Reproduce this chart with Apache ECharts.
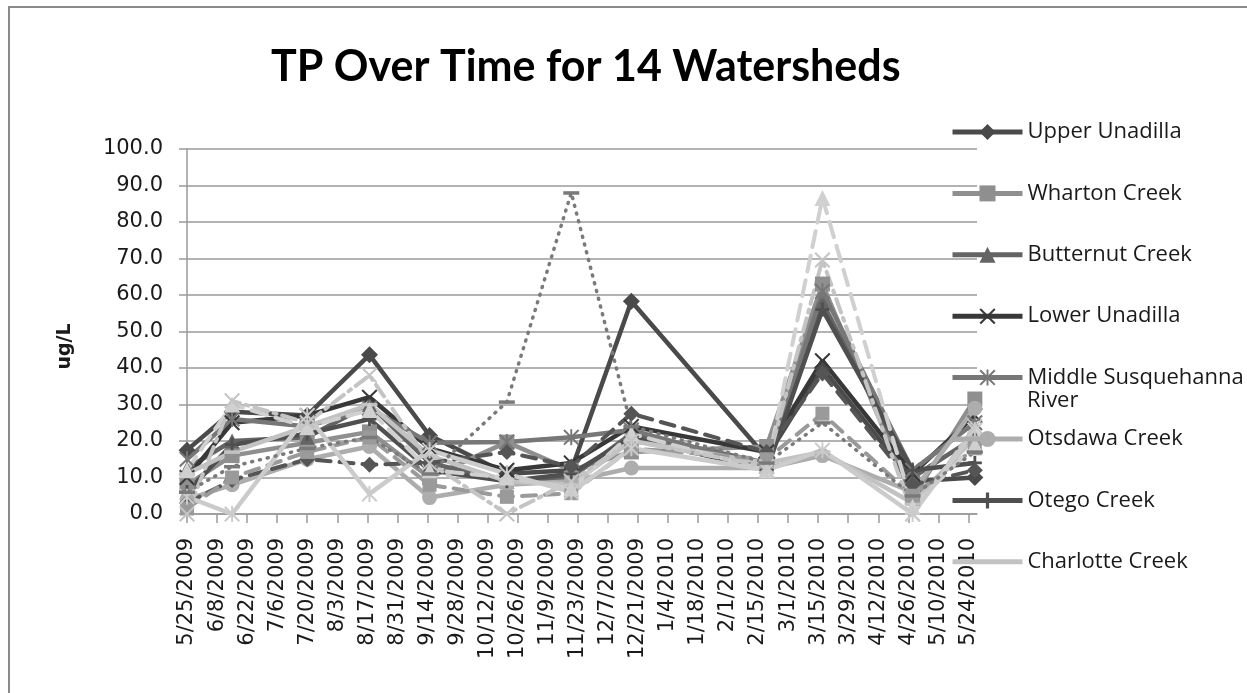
<!DOCTYPE html>
<html>
<head>
<meta charset="utf-8">
<title>TP Over Time for 14 Watersheds</title>
<script src="https://cdn.jsdelivr.net/npm/echarts@6/dist/echarts.min.js"></script>
<style>
html,body{margin:0;padding:0;background:#fff;}
#chart{width:1247px;height:693px;}
</style>
</head>
<body>
<div id="chart"></div>
<script>
// x axis: days counted from 5/25/2009, a label every 14 days
var tickLabels = ['5/25/2009','6/8/2009','6/22/2009','7/6/2009','7/20/2009','8/3/2009','8/17/2009',
  '8/31/2009','9/14/2009','9/28/2009','10/12/2009','10/26/2009','11/9/2009','11/23/2009',
  '12/7/2009','12/21/2009','1/4/2010','1/18/2010','2/1/2010','2/15/2010','3/1/2010',
  '3/15/2010','3/29/2010','4/12/2010','4/26/2010','5/10/2010','5/24/2010'];
var sampleDates = ['2009-05-25','2009-06-15','2009-07-20','2009-08-18','2009-09-15','2009-10-21',
  '2009-11-20','2009-12-18','2010-02-19','2010-03-17','2010-04-28','2010-05-27'];

// TP (ug/L) per watershed, one value per sample date
var upperUnadilla   = [17.5, 28.0, 27.0, 43.6, 21.5, 11.0, 12.0, 58.3, 15.5, 40.0,  9.0, 10.0];
var whartonCreek    = [ 8.0, 16.0, 19.5, 22.5, 10.0, 19.7, 12.0, 17.0, 18.5, 63.0,  4.4, 31.5];
var butternutCreek  = [12.5, 20.0, 21.0, 30.0, 14.0,  9.0, 10.0, 22.0, 14.0, 58.0, 10.0, 21.0];
var lowerUnadilla   = [10.0, 25.0, 27.0, 32.0, 18.0, 12.0, 14.0, 24.0, 17.0, 42.0, 11.0, 27.0];
var middleSusq      = [15.0, 26.0, 24.0, 29.0, 19.5, 19.7, 21.0, 23.0, 13.0, 61.0, 12.0, 25.0];
var otsdawaCreek    = [ 4.0,  8.0, 15.0, 18.5,  4.5,  8.0,  9.0, 12.6, 12.6, 16.0,  6.0, 29.0];
var otegoCreek      = [ 6.0, 19.0, 22.0, 26.0, 12.0,  9.0, 11.0, 21.0, 12.0, 56.0, 12.0, 14.0];
var charlotteCreek  = [11.0, 17.0, 24.0, 30.0, 16.0,  9.0,  8.0, 20.0, 14.0, 17.0,  3.0, 21.0];
var oaksCreek       = [ 3.0,  9.3, 15.0, 13.5, 14.0, 17.0, 13.0, 27.5, 17.0, 38.5,  8.0, 12.0];
var schenevusCreek  = [ 1.5, 10.0, 17.0, 21.0,  8.0,  4.7,  5.7, 18.0, 15.0, 27.5,  5.0, 18.0];
var cherryValley    = [12.0, 30.0, 23.8, 28.5, 12.0, 10.0,  7.0, 22.0, 12.0, 86.6,  2.0, 19.0];
var ouleoutCreek    = [ 0.0, 31.0, 25.0, 38.0, 14.0,  0.0,  9.0, 20.0, 13.0, 69.6,  0.0, 24.0];
var upperSusq       = [ 4.7,  0.0, 27.0,  5.5, 17.5, 11.0,  6.0, 18.0, 12.0, 17.5,  0.0, 23.0];
var lowerSusq       = [ 6.0, 13.0, 18.0, 21.0, 11.0, 30.7, 88.0, 24.0, 14.0, 25.0,  5.0, 17.0];

var START = Date.UTC(2009, 4, 25);
function dayOf(s){
  var p = s.split('-');
  return Math.round((Date.UTC(+p[0], +p[1]-1, +p[2]) - START) / 86400000);
}
var sampleDays = sampleDates.map(dayOf);

var X_MARK = 'M0,0.9L0.9,0L5,4.1L9.1,0L10,0.9L5.9,5L10,9.1L9.1,10L5,5.9L0.9,10L0,9.1L4.1,5Z';
var STAR_MARK = X_MARK + 'M4.4,0L5.6,0L5.6,10L4.4,10Z';
var PLUS_MARK = 'M4,0L6,0L6,4L10,4L10,6L6,6L6,10L4,10L4,6L0,6L0,4L4,4Z';
var DASH_MARK = 'M0,0M10,10M0,4L10,4L10,6.2L0,6.2Z';

var series = [
  {name:'Upper Unadilla', data:upperUnadilla, color:'#4a4a4a', symbol:'diamond', size:17, width:4.5},
  {name:'Wharton Creek', data:whartonCreek, color:'#8f8f8f', symbol:'rect', size:15, width:4.5},
  {name:'Butternut Creek', data:butternutCreek, color:'#646464', symbol:'triangle', size:15, width:4.5},
  {name:'Lower Unadilla', data:lowerUnadilla, color:'#383838', symbol:'path://' + X_MARK, size:16, width:4.5},
  {name:'Middle Susquehanna River', data:middleSusq, color:'#777777', symbol:'path://' + STAR_MARK, size:16, width:4.5},
  {name:'Otsdawa Creek', data:otsdawaCreek, color:'#adadad', symbol:'circle', size:15, width:4.5},
  {name:'Otego Creek', data:otegoCreek, color:'#4f4f4f', symbol:'path://' + PLUS_MARK, size:14, width:4.5},
  {name:'Charlotte Creek', data:charlotteCreek, color:'#c2c2c2', symbol:'path://' + DASH_MARK, size:16, width:4.5},
  {name:'Oaks Creek', data:oaksCreek, color:'#555555', symbol:'diamond', size:16, width:4, dash:[14, 9]},
  {name:'Schenevus Creek', data:schenevusCreek, color:'#9a9a9a', symbol:'rect', size:14, width:4, dash:[14, 9]},
  {name:'Cherry Valley Creek', data:cherryValley, color:'#d0d0d0', symbol:'triangle', size:16, width:4, dash:[16, 9]},
  {name:'Ouleout Creek', data:ouleoutCreek, color:'#c4c4c4', symbol:'path://' + X_MARK, size:16, width:4, dash:[14, 6, 3, 6]},
  {name:'Upper Susquehanna River', data:upperSusq, color:'#cbcbcb', symbol:'path://' + STAR_MARK, size:16, width:4.5},
  {name:'Lower Susquehanna River', data:lowerSusq, color:'#7a7a7a', symbol:'path://' + DASH_MARK, size:16, width:3.5, dash:[1, 7]}
];

// only the first eight entries fit in the legend box
var legendNames = series.slice(0, 8).map(function(s){ return s.name; });

var chart = echarts.init(document.getElementById('chart'));

var option = {
  animation:false,
  backgroundColor:'#fff',
  textStyle:{fontFamily:'DejaVu Sans'},
  title:{
    text:'TP Over Time for 14 Watersheds', left:266, top:41,
    textStyle:{fontFamily:'Lato', fontWeight:'bold', fontSize:43, color:'#000'}
  },
  graphic:[{
    type:'rect', silent:true, z:-1,
    shape:{x:9, y:7, width:1400, height:900},
    style:{fill:null, stroke:'#8a8a8a', lineWidth:2}
  }, {
    // second line of the wrapped legend entry
    type:'text', silent:true,
    style:{text:'River', x:1027, y:401, fill:'#1a1a1a', fontFamily:'Open Sans', fontSize:22, verticalAlign:'middle'}
  }],
  legend:{
    orient:'vertical', left:950, top:120, padding:0,
    itemWidth:70, itemHeight:20, itemGap:37.4,
    selectedMode:false,
    data:legendNames,
    formatter:function(n){ return n === 'Middle Susquehanna River' ? 'Middle Susquehanna' : n; },
    lineStyle:{width:5},
    textStyle:{fontFamily:'Open Sans', fontSize:22, color:'#1a1a1a', lineHeight:24}
  },
  grid:{left:187, right:270, top:149, bottom:179},
  xAxis:{
    type:'value', min:0, max:368, interval:14,
    axisLine:{lineStyle:{color:'#9a9a9a', width:1.5}},
    axisTick:{show:true, length:9, lineStyle:{color:'#9a9a9a', width:1.5}},
    splitLine:{show:false},
    axisLabel:{
      rotate:90, margin:24, fontSize:21, color:'#1a1a1a', fontFamily:'DejaVu Sans',
      showMaxLabel:false,
      formatter:function(v){
        if (v % 14 !== 0) return '';
        return tickLabels[v / 14] || '';
      }
    }
  },
  yAxis:{
    type:'value', min:0, max:100, interval:10,
    name:'ug/L', nameLocation:'middle', nameGap:112, nameRotate:90,
    nameTextStyle:{fontFamily:'DejaVu Sans', fontWeight:'bold', fontSize:19, color:'#1a1a1a', padding:[0,30,0,0]},
    axisLine:{show:true, lineStyle:{color:'#9a9a9a', width:1.5}},
    axisTick:{show:true, length:8, lineStyle:{color:'#9a9a9a', width:1.5}},
    splitLine:{lineStyle:{color:'#9a9a9a', width:1.5}},
    axisLabel:{
      margin:24, fontSize:21, color:'#1a1a1a', fontFamily:'DejaVu Sans',
      formatter:function(v){ return v.toFixed(1); }
    }
  },
  series:series.map(function(s){
    return {
      name:s.name, type:'line',
      data:s.data.map(function(v, i){ return [sampleDays[i], v]; }),
      symbol:s.symbol, symbolSize:s.size, showSymbol:true,
      itemStyle:{color:s.color},
      lineStyle:{color:s.color, width:s.width, type:s.dash || 'solid', cap:s.dash ? 'round' : 'butt'},
      emphasis:{disabled:true}
    };
  })
};

chart.setOption(option);
</script>
</body>
</html>
